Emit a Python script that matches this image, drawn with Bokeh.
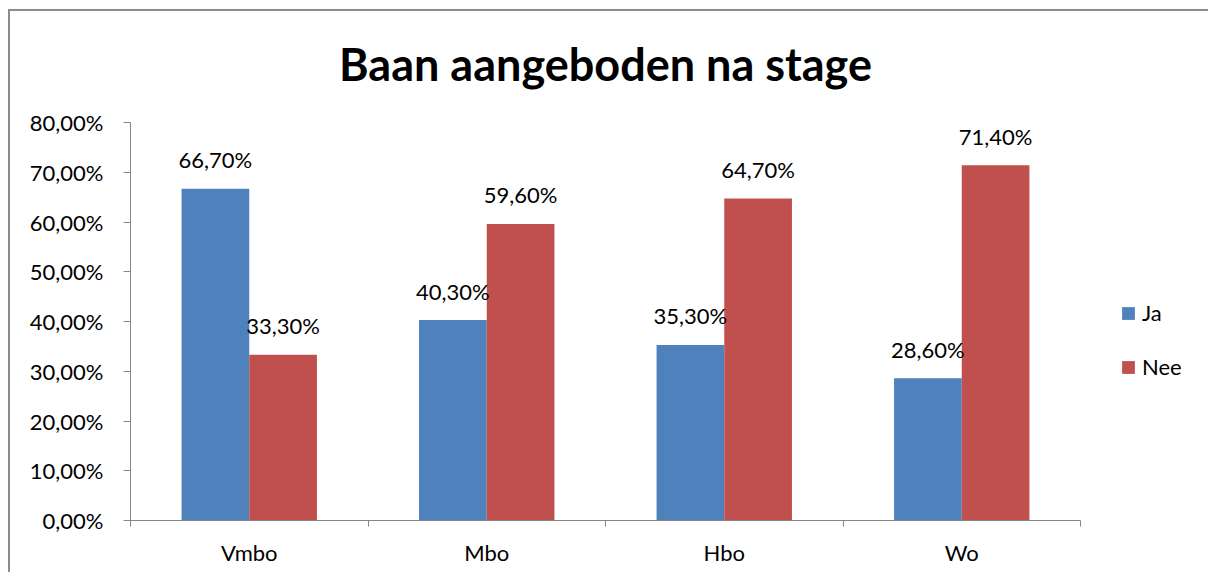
from bokeh.plotting import figure
from bokeh.models import ColumnDataSource, FixedTicker, Range1d, Legend, LegendItem
from bokeh.embed import file_html
from bokeh.resources import INLINE
from bokeh.core.properties import value

categories = ["Vmbo", "Mbo", "Hbo", "Wo"]
ja = [0.667, 0.403, 0.353, 0.286]
nee = [0.333, 0.596, 0.647, 0.714]
series_names = ["Ja", "Nee"]
y_ticks = [0.0, 0.1, 0.2, 0.3, 0.4, 0.5, 0.6, 0.7, 0.8]
y_tick_labels = ["0,00%", "10,00%", "20,00%", "30,00%", "40,00%", "50,00%", "60,00%", "70,00%", "80,00%"]

BLUE = "#4F81BD"
RED = "#C0504D"
FONT = "Lato"
AXIS = "#868686"
FS = "22px"

def pct(v):
    return ("%.2f%%" % (v * 100)).replace(".", ",")

bw = 0.285
centers = [i + 0.5 for i in range(len(categories))]
src_ja = ColumnDataSource(dict(x=[c - bw / 2 for c in centers], top=ja, lab=[pct(v) for v in ja]))
src_nee = ColumnDataSource(dict(x=[c + bw / 2 for c in centers], top=nee, lab=[pct(v) for v in nee]))

p = figure(width=1200, height=572, output_backend="svg", toolbar_location=None,
           x_range=Range1d(0, len(categories)), y_range=Range1d(0, 0.8),
           frame_width=950, frame_height=398,
           min_border_left=130, min_border_right=120, min_border_top=122, min_border_bottom=52)
p.outline_line_color = None
p.xgrid.visible = False
p.ygrid.visible = False
p.background_fill_color = None
p.border_fill_color = None
# chart border: only the top and left edges of the chart box are in view
p.styles = {"background-color": "white",
            "box-shadow": "inset 8px 9px 0 0 white, inset 10px 11px 0 0 #8c8c8c"}

r1 = p.vbar(x="x", top="top", width=bw, source=src_ja, color=BLUE, line_color=None)
r2 = p.vbar(x="x", top="top", width=bw, source=src_nee, color=RED, line_color=None)

for src in (src_ja, src_nee):
    p.text(x="x", y="top", text="lab", source=src, text_align="center", text_baseline="alphabetic",
           y_offset=-29, text_font=value(FONT), text_font_size=FS, text_color="black")

# y axis
p.yaxis.ticker = FixedTicker(ticks=y_ticks)
p.yaxis.major_label_overrides = {t: l for t, l in zip(y_ticks, y_tick_labels)}
p.yaxis.major_label_text_font = FONT
p.yaxis.major_label_text_font_size = FS
p.yaxis.major_label_text_color = "black"
p.yaxis.axis_line_color = AXIS
p.yaxis.major_tick_line_color = AXIS
p.yaxis.major_tick_in = 0
p.yaxis.major_tick_out = 7
p.yaxis.minor_tick_line_color = None
p.yaxis.major_label_standoff = 20

# x axis: labels at centers, tick marks at category boundaries
p.xaxis.ticker = FixedTicker(ticks=centers, minor_ticks=list(range(len(categories) + 1)))
p.xaxis.major_label_overrides = {c: n for c, n in zip(centers, categories)}
p.xaxis.major_label_text_font = FONT
p.xaxis.major_label_text_font_size = FS
p.xaxis.major_label_text_color = "black"
p.xaxis.axis_line_color = AXIS
p.xaxis.major_tick_line_color = None
p.xaxis.minor_tick_line_color = AXIS
p.xaxis.minor_tick_in = 0
p.xaxis.minor_tick_out = 6
p.xaxis.major_label_standoff = 12

# title
p.title.text = "Baan aangeboden na stage"
p.title.text_font = FONT
p.title.text_font_size = "45px"
p.title.text_font_style = "bold"
p.title.align = "center"
p.title.offset = 6
p.title.text_color = "black"
p.title.standoff = 64

legend = Legend(items=[LegendItem(label=series_names[0], renderers=[r1]),
                       LegendItem(label=series_names[1], renderers=[r2])],
                location=(40, 140), orientation="vertical")
legend.glyph_width = 16
legend.glyph_height = 16
legend.label_text_font = FONT
legend.label_text_font_size = FS
legend.label_text_color = "black"
legend.label_standoff = 6
legend.spacing = 27
legend.padding = 0
legend.margin = 0
legend.border_line_color = None
legend.background_fill_alpha = 0
p.add_layout(legend, "right")

open("out.html", "w").write(file_html(p, INLINE))
